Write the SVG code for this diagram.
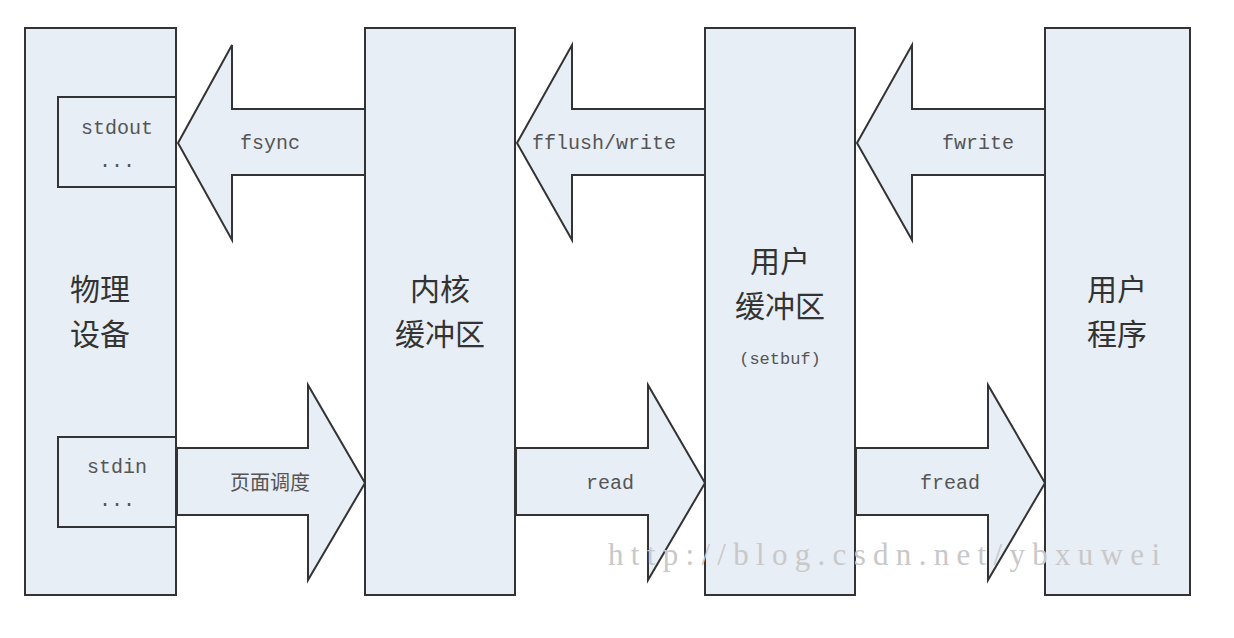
<svg xmlns="http://www.w3.org/2000/svg" width="1234" height="638" viewBox="0 0 1234 638">
<style>
.b{fill:#e8eef6;stroke:#333;stroke-width:2}
.m{font-family:"Liberation Mono",monospace;font-size:20px;fill:#555;text-anchor:middle}
.c{font-family:"Noto Sans CJK SC",sans-serif;font-size:30px;fill:#333;text-anchor:middle}
.s{font-family:"Noto Sans CJK SC",sans-serif;font-size:20px;fill:#555;text-anchor:middle}
</style>
<rect width="1234" height="638" fill="#fff"/>
<g id="dev"><rect class="b" x="25" y="28" width="151" height="567"/>
<text class="c" x="100" y="300">物理</text><text class="c" x="100" y="345">设备</text></g>
<g id="kernel"><rect class="b" x="365" y="28" width="150" height="567"/>
<text class="c" x="440" y="300">内核</text><text class="c" x="440" y="345">缓冲区</text></g>
<g id="ubuf"><rect class="b" x="705" y="28" width="150" height="567"/>
<text class="c" x="780" y="272">用户</text><text class="c" x="780" y="317">缓冲区</text>
<text class="m" x="780" y="364" style="font-size:17px">(setbuf)</text></g>
<g id="prog"><rect class="b" x="1045" y="28" width="145" height="567"/>
<text class="c" x="1117" y="300">用户</text><text class="c" x="1117" y="345">程序</text></g>
<g id="stdout"><rect class="b" x="58" y="97" width="118" height="90"/>
<text class="m" x="117" y="134">stdout</text><text class="m" x="117" y="167">...</text></g>
<g id="stdin"><rect class="b" x="58" y="437" width="118" height="90"/>
<text class="m" x="117" y="473">stdin</text><text class="m" x="117" y="506">...</text></g>
<g id="connectors">
<polygon class="b" points="365,109 232,109 232,45 178,143 232,240 232,175 365,175"/>
<polygon class="b" points="705,109 572,109 572,45 517,143 572,240 572,175 705,175"/>
<polygon class="b" points="1045,109 912,109 912,45 857,143 912,240 912,175 1045,175"/>
<polygon class="b" points="177,448 308,448 308,385 365,483 308,580 308,515 177,515"/>
<polygon class="b" points="516,448 648,448 648,385 705,483 648,580 648,515 516,515"/>
<polygon class="b" points="856,448 988,448 988,385 1045,483 988,580 988,515 856,515"/>
<text class="m" x="270" y="149">fsync</text>
<text class="m" x="604" y="149">fflush/write</text>
<text class="m" x="978" y="149">fwrite</text>
<text class="s" x="270" y="490">页面调度</text>
<text class="m" x="610" y="489">read</text>
<text class="m" x="950" y="489">fread</text>
</g>
<text x="608" y="565" textLength="552" lengthAdjust="spacing" style="font-family:'Liberation Serif',serif;font-size:31px;fill:#c8c8c8">http://blog.csdn.net/ybxuwei</text>
</svg>
